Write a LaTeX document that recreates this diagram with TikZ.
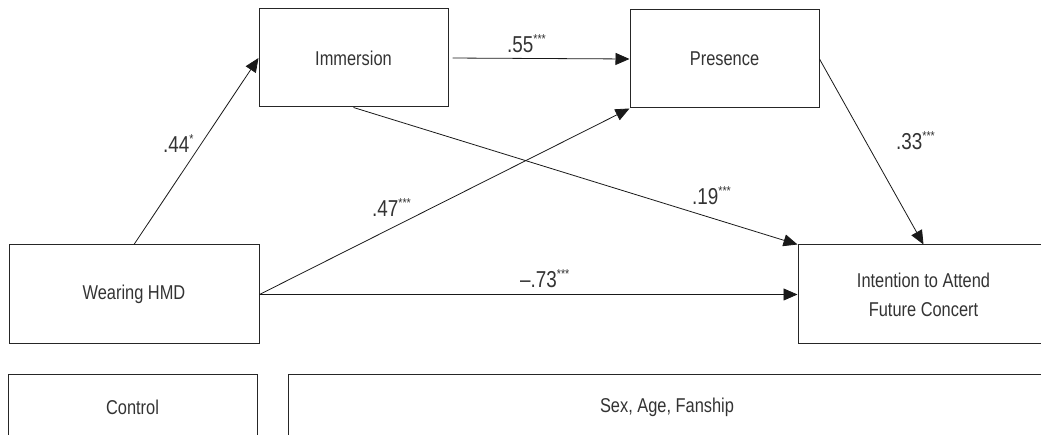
\documentclass[tikz,border=0pt]{standalone}
\usepackage{fontspec}
\setmainfont{Liberation Sans}[FakeStretch=0.82]
\usetikzlibrary{arrows.meta}
\newcommand{\sig}[1]{\raisebox{9pt}{\fontsize{13}{13}\selectfont #1}}
\begin{document}
\begin{tikzpicture}[x=1pt,y=-1pt,
  box/.style={draw=black!85, line width=1pt, rectangle, inner sep=0pt, text=black!80, font=\fontsize{20}{29}\selectfont},
  arr/.style={draw=black!90, line width=0.8pt, -{Triangle[length=14pt,width=12pt]}},
  lab/.style={anchor=base west, inner sep=0pt, text=black!80, font=\fontsize{23}{23}\selectfont}]
\useasboundingbox (0,0) rectangle (1041,435);
\node[box, minimum width=189pt, minimum height=98pt] (imm) at (353.5,58) {Immersion};
\node[box, minimum width=189pt, minimum height=98pt] (pre) at (724.5,59) {Presence};
\node[box, minimum width=250pt, minimum height=99pt] (hmd) at (134,294.5) {Wearing HMD};
\node[box, minimum width=251pt, minimum height=99pt, align=center] (int) at (923.5,294.5) {Intention to Attend\\Future Concert};
\node[box, minimum width=249pt, minimum height=66pt] (ctrl) at (132.5,407) {Control};
\node[box, minimum width=758pt, minimum height=66pt] (cov) at (667,407) {Sex, Age, Fanship};
\draw[arr] (hmd.north) -- (imm.west);
\draw[arr, shorten <=4pt] (imm.east) -- (pre.west);
\draw[arr] (imm.south) -- (int.north west);
\draw[arr] (hmd.east) -- (pre.south west);
\draw[arr] (hmd.east) -- (int.west);
\draw[arr] (pre.east) -- (int.north);
\node[lab] (l44) at (163,153) {.44\sig{*}};
\node[lab] (l55) at (507,53) {.55\sig{***}};
\node[lab] (l47) at (372,217) {.47\sig{***}};
\node[lab] (l19) at (692,205) {.19\sig{***}};
\node[lab] (l33) at (896,150) {.33\sig{***}};
\node[lab] (l73) at (520,288) {–.73\sig{***}};
\end{tikzpicture}
\end{document}
